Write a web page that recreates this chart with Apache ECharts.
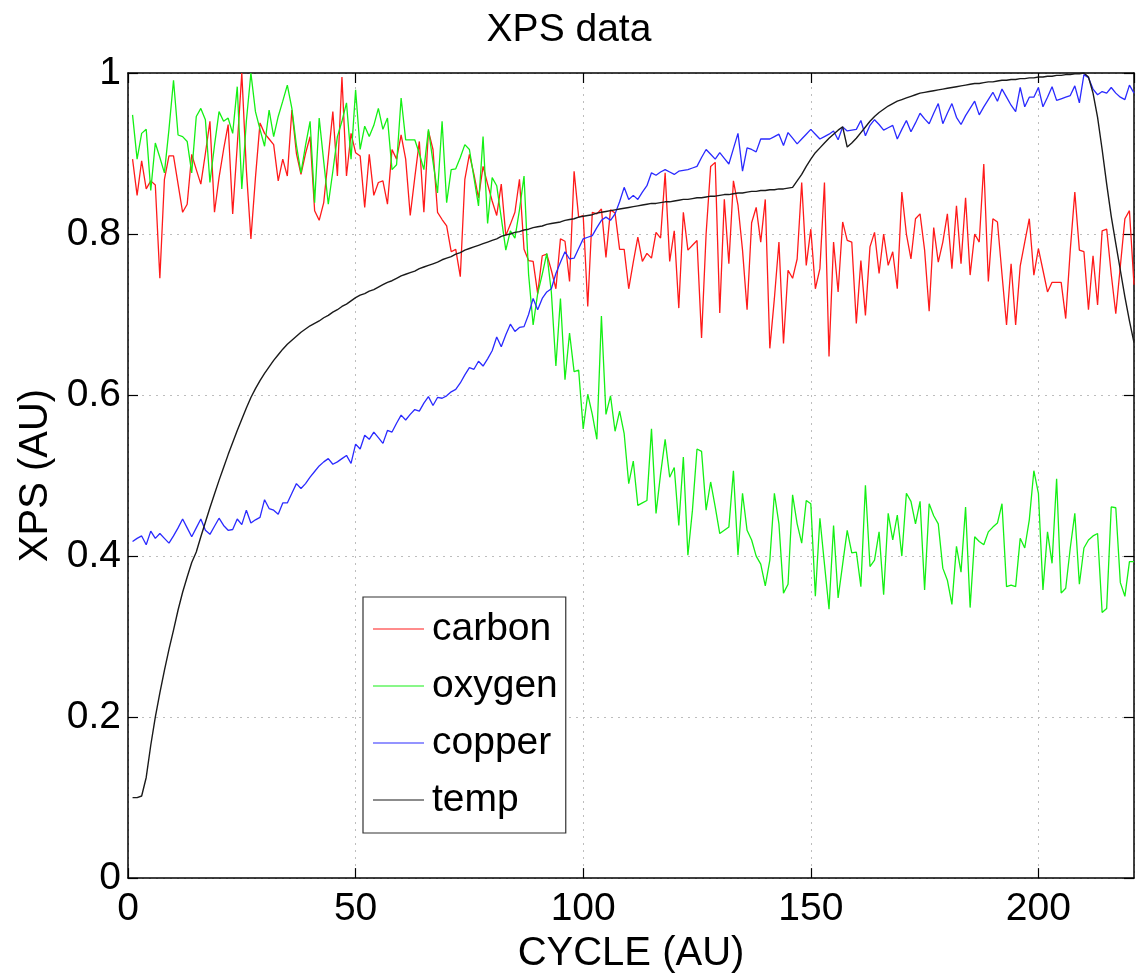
<!DOCTYPE html>
<html>
<head>
<meta charset="utf-8">
<script src="https://cdn.jsdelivr.net/npm/echarts@6/dist/echarts.min.js"></script>
<style>
html,body{margin:0;padding:0;background:#fff;}
#chart{width:1138px;height:979px;}
</style>
</head>
<body>
<div id="chart"></div>
<script>
const seriesNames = ['carbon', 'oxygen', 'copper', 'temp'];
const xTicks = [0, 50, 100, 150, 200];
const yTicks = [0, 0.2, 0.4, 0.6, 0.8, 1];

const carbon = [
0.893,0.848,0.891,0.856,0.866,0.861,0.745,0.868,0.897,0.897,
0.862,0.827,0.837,0.899,0.880,0.862,0.900,0.940,0.827,0.870,
0.905,0.936,0.825,0.910,1.000,0.880,0.794,0.870,0.938,0.925,
0.918,0.911,0.866,0.893,0.872,0.954,0.900,0.874,0.900,0.921,
0.829,0.817,0.839,0.895,0.952,0.872,0.995,0.872,0.925,0.901,
0.897,0.833,0.899,0.848,0.864,0.866,0.837,0.905,0.893,0.923,
0.893,0.823,0.870,0.915,0.827,0.928,0.905,0.827,0.818,0.810,
0.778,0.781,0.747,0.868,0.899,0.874,0.845,0.884,0.862,0.841,
0.823,0.862,0.798,0.812,0.827,0.868,0.781,0.767,0.766,0.726,
0.773,0.775,0.755,0.732,0.794,0.791,0.741,0.878,0.821,0.823,
0.710,0.827,0.825,0.831,0.771,0.830,0.826,0.781,0.781,0.732,
0.765,0.796,0.766,0.776,0.770,0.802,0.795,0.876,0.766,0.804,
0.708,0.827,0.780,0.786,0.792,0.671,0.800,0.884,0.889,0.702,
0.843,0.763,0.866,0.836,0.780,0.706,0.814,0.833,0.790,0.843,
0.658,0.720,0.790,0.664,0.755,0.745,0.769,0.864,0.761,0.806,
0.732,0.757,0.864,0.648,0.790,0.728,0.815,0.792,0.790,0.689,
0.767,0.699,0.784,0.802,0.751,0.800,0.761,0.778,0.732,0.852,
0.800,0.769,0.819,0.825,0.780,0.704,0.808,0.765,0.790,0.825,
0.757,0.835,0.763,0.845,0.749,0.800,0.790,0.887,0.741,0.819,
0.815,0.750,0.687,0.763,0.687,0.760,0.790,0.819,0.749,0.782,
0.755,0.728,0.740,0.740,0.740,0.695,0.780,0.852,0.780,0.778,
0.706,0.773,0.712,0.804,0.806,0.750,0.701,0.760,0.819,0.829,
0.737];

const oxygen = [
0.948,0.893,0.925,0.930,0.854,0.913,0.895,0.876,0.930,0.991,
0.923,0.921,0.915,0.876,0.946,0.956,0.942,0.864,0.910,0.952,
0.940,0.944,0.925,0.983,0.856,0.940,1.000,0.952,0.930,0.909,
0.954,0.921,0.946,0.965,0.985,0.956,0.910,0.876,0.910,0.940,
0.839,0.944,0.890,0.837,0.878,0.921,0.940,0.963,0.893,0.979,
0.905,0.934,0.921,0.935,0.956,0.930,0.944,0.880,0.886,0.969,
0.917,0.917,0.917,0.900,0.880,0.930,0.890,0.851,0.940,0.839,
0.880,0.881,0.895,0.911,0.905,0.870,0.835,0.921,0.813,0.870,
0.860,0.820,0.780,0.804,0.795,0.830,0.872,0.750,0.687,0.726,
0.750,0.776,0.728,0.636,0.720,0.619,0.677,0.629,0.631,0.558,
0.601,0.576,0.545,0.698,0.576,0.599,0.555,0.580,0.552,0.490,
0.518,0.463,0.466,0.469,0.558,0.453,0.502,0.545,0.498,0.510,
0.438,0.523,0.401,0.457,0.533,0.530,0.457,0.492,0.461,0.428,
0.432,0.436,0.506,0.401,0.478,0.432,0.420,0.400,0.390,0.363,
0.395,0.478,0.440,0.354,0.365,0.476,0.440,0.416,0.469,0.465,
0.350,0.447,0.390,0.334,0.438,0.348,0.390,0.432,0.404,0.405,
0.362,0.488,0.387,0.395,0.430,0.352,0.453,0.420,0.451,0.400,
0.478,0.468,0.440,0.468,0.358,0.465,0.450,0.440,0.385,0.370,
0.340,0.412,0.380,0.461,0.336,0.424,0.418,0.414,0.430,0.436,
0.441,0.465,0.362,0.364,0.362,0.422,0.410,0.445,0.506,0.478,
0.358,0.430,0.391,0.496,0.354,0.360,0.410,0.453,0.365,0.410,
0.420,0.425,0.428,0.330,0.335,0.461,0.460,0.367,0.350,0.393,
0.393];

const copper = [
0.418,0.422,0.425,0.414,0.431,0.422,0.428,0.422,0.416,0.425,
0.435,0.446,0.435,0.424,0.435,0.446,0.432,0.427,0.437,0.447,
0.438,0.432,0.433,0.446,0.439,0.457,0.441,0.445,0.448,0.470,
0.459,0.457,0.452,0.466,0.466,0.478,0.490,0.484,0.490,0.498,
0.505,0.512,0.517,0.521,0.514,0.517,0.521,0.525,0.515,0.539,
0.533,0.550,0.545,0.554,0.547,0.540,0.556,0.554,0.565,0.575,
0.569,0.576,0.582,0.580,0.590,0.598,0.587,0.597,0.596,0.599,
0.604,0.607,0.615,0.625,0.634,0.632,0.642,0.636,0.645,0.655,
0.672,0.660,0.675,0.688,0.679,0.684,0.685,0.700,0.720,0.706,
0.720,0.728,0.732,0.751,0.765,0.778,0.769,0.770,0.782,0.794,
0.796,0.798,0.808,0.817,0.821,0.817,0.825,0.840,0.858,0.843,
0.848,0.843,0.852,0.860,0.876,0.873,0.877,0.880,0.877,0.874,
0.878,0.879,0.880,0.882,0.884,0.895,0.905,0.899,0.893,0.901,
0.894,0.887,0.906,0.925,0.878,0.907,0.905,0.902,0.918,0.918,
0.918,0.921,0.924,0.910,0.926,0.919,0.912,0.918,0.924,0.930,
0.924,0.918,0.921,0.924,0.928,0.917,0.933,0.928,0.929,0.930,
0.941,0.922,0.935,0.942,0.936,0.929,0.932,0.935,0.918,0.930,
0.941,0.927,0.938,0.950,0.943,0.937,0.950,0.962,0.937,0.950,
0.962,0.945,0.936,0.947,0.956,0.965,0.948,0.958,0.967,0.976,
0.965,0.980,0.970,0.960,0.952,0.982,0.958,0.970,0.970,0.982,
0.958,0.970,0.983,0.966,0.968,0.970,0.972,0.984,0.963,0.998,
0.994,0.980,0.973,0.977,0.975,0.982,0.975,0.970,0.967,0.985,
0.975];

const temp = [
0.100,0.100,0.102,0.125,0.165,0.200,0.230,0.258,0.284,0.308,
0.333,0.355,0.374,0.392,0.405,0.424,0.442,0.460,0.477,0.494,
0.510,0.526,0.541,0.556,0.570,0.584,0.597,0.608,0.618,0.627,
0.635,0.643,0.650,0.657,0.663,0.668,0.673,0.678,0.682,0.686,
0.689,0.692,0.696,0.699,0.703,0.706,0.710,0.713,0.717,0.721,
0.724,0.726,0.729,0.731,0.734,0.737,0.740,0.742,0.745,0.748,
0.750,0.752,0.754,0.757,0.759,0.761,0.763,0.765,0.768,0.770,
0.772,0.775,0.777,0.780,0.782,0.784,0.786,0.788,0.790,0.792,
0.794,0.797,0.799,0.800,0.802,0.803,0.805,0.806,0.808,0.809,
0.810,0.812,0.813,0.814,0.815,0.817,0.818,0.819,0.821,0.822,
0.823,0.824,0.826,0.827,0.828,0.829,0.830,0.831,0.832,0.833,
0.834,0.835,0.836,0.837,0.838,0.838,0.839,0.840,0.840,0.841,
0.842,0.843,0.843,0.844,0.845,0.845,0.846,0.847,0.847,0.848,
0.849,0.849,0.850,0.851,0.851,0.852,0.853,0.853,0.854,0.854,
0.855,0.855,0.856,0.856,0.857,0.858,0.866,0.874,0.884,0.893,
0.901,0.907,0.913,0.919,0.924,0.929,0.933,0.908,0.913,0.919,
0.926,0.933,0.940,0.946,0.951,0.955,0.959,0.962,0.965,0.967,
0.969,0.971,0.973,0.975,0.976,0.977,0.978,0.979,0.980,0.981,
0.982,0.983,0.984,0.985,0.986,0.987,0.987,0.988,0.989,0.989,
0.990,0.991,0.991,0.992,0.992,0.993,0.993,0.994,0.994,0.995,
0.995,0.996,0.996,0.997,0.997,0.998,0.998,0.999,0.999,1.000,
0.995,0.975,0.945,0.905,0.862,0.822,0.788,0.755,0.722,0.692,
0.665];

const colors = ['#ff1a1a', '#14f014', '#2a2aff', '#1a1a1a'];
const seriesData = [carbon, oxygen, copper, temp];
const FONT = '"Liberation Sans", Arial, Helvetica, sans-serif';

const chart = echarts.init(document.getElementById('chart'), null, {renderer: 'canvas'});

function axisCommon() {
  return {
    axisLine: {show: true, onZero: false, lineStyle: {color: '#000', width: 1.5}},
    axisTick: {show: true, inside: true, length: 10, lineStyle: {color: '#000', width: 1.2}},
  };
}

const option = {
  backgroundColor: '#fff',
  animation: false,
  textStyle: {fontFamily: FONT},
  title: {
    text: 'XPS data', left: 'center', top: 6,
    textStyle: {fontFamily: FONT, fontSize: 39, fontWeight: 'normal', color: '#000'}
  },
  grid: {left: 128, right: 4, top: 73, bottom: 95, containLabel: false},
  legend: {
    orient: 'vertical', left: 363, top: 597,
    data: seriesNames,
    backgroundColor: '#fff',
    borderColor: '#333', borderWidth: 1.2,
    padding: [10, 8, 11, 10],
    itemGap: 13, itemWidth: 51, itemHeight: 12,
    icon: 'path://M0,5 L51,5 L51,6 L0,6 Z',
    textStyle: {fontFamily: FONT, fontSize: 39, color: '#000', lineHeight: 44, padding: [0, 0, 0, 3]}
  },
  xAxis: [
    Object.assign({
      type: 'value', min: 0, max: 221, interval: 50,
      name: 'CYCLE (AU)', nameLocation: 'middle', nameGap: 47,
      nameTextStyle: {fontFamily: FONT, fontSize: 40, color: '#000'},
      axisLabel: {fontFamily: FONT, fontSize: 39, color: '#000', margin: 12, showMaxLabel: false,
        formatter: v => xTicks.indexOf(v) >= 0 ? String(v) : ''},
      splitLine: {show: true, lineStyle: {color: '#bdbdbd', type: [2, 5], width: 1}}
    }, axisCommon()),
    Object.assign({
      type: 'value', min: 0, max: 221, interval: 50, position: 'top',
      axisLabel: {show: false}, splitLine: {show: false}
    }, axisCommon())
  ],
  yAxis: [
    Object.assign({
      type: 'value', min: 0, max: 1, interval: 0.2,
      name: 'XPS (AU)', nameLocation: 'middle', nameGap: 68, nameRotate: 90,
      nameTextStyle: {fontFamily: FONT, fontSize: 40, color: '#000'},
      axisLabel: {fontFamily: FONT, fontSize: 39, color: '#000', margin: 7,
        formatter: v => { const t = yTicks.find(k => Math.abs(k - v) < 1e-9); return t === undefined ? '' : String(t); }},
      splitLine: {show: true, lineStyle: {color: '#bdbdbd', type: [2, 5], width: 1}}
    }, axisCommon()),
    Object.assign({
      type: 'value', min: 0, max: 1, interval: 0.2, position: 'right',
      axisLabel: {show: false}, splitLine: {show: false}
    }, axisCommon())
  ],
  series: seriesNames.map((name, k) => ({
    name: name,
    type: 'line',
    xAxisIndex: 0, yAxisIndex: 0,
    symbol: 'none',
    smooth: false,
    color: colors[k],
    lineStyle: {color: colors[k], width: k === 3 ? 1.4 : 1.3},
    data: seriesData[k].map((v, i) => [i + 1, v]),
    z: k === 3 ? 5 : 3 + k * 0.1
  }))
};

chart.setOption(option);
</script>
</body>
</html>
